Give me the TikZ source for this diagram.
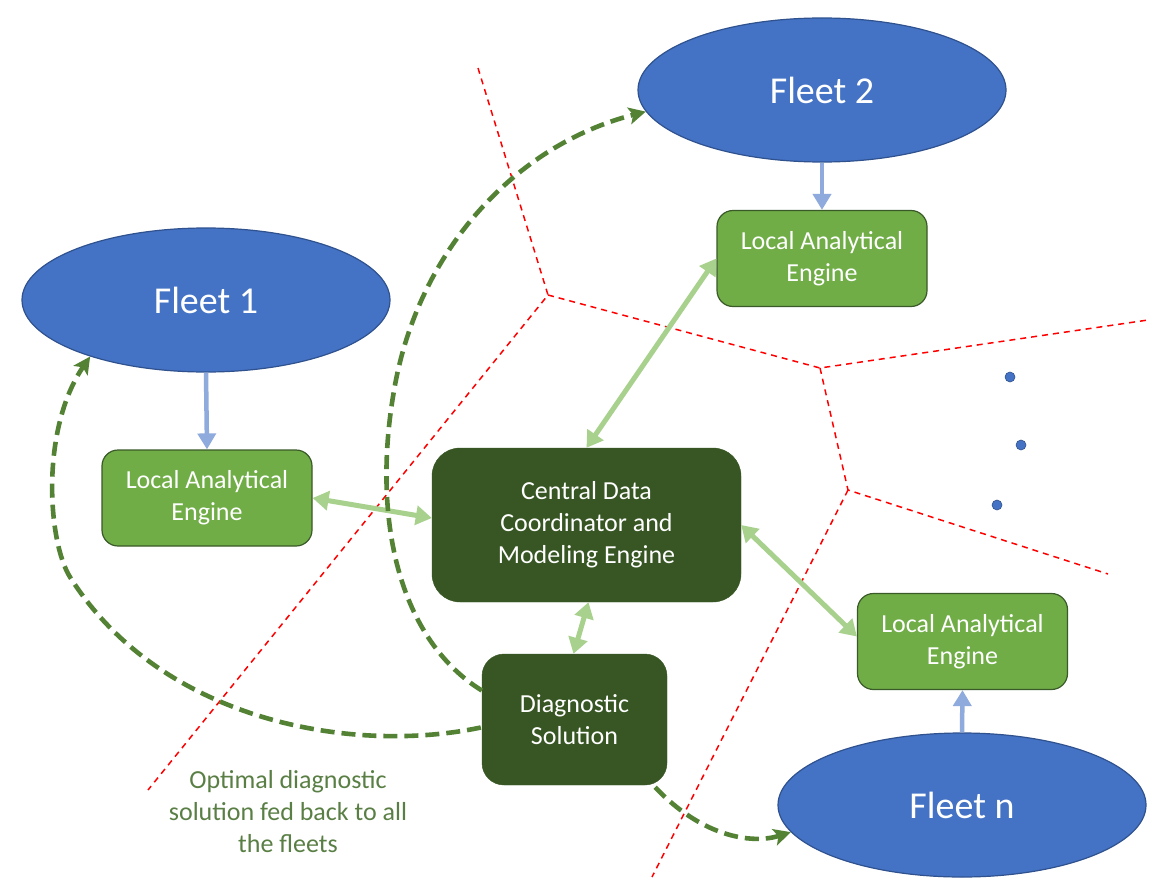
\documentclass[tikz,border=0pt]{standalone}
\usepackage{fontspec}
\setmainfont{Carlito}
\usetikzlibrary{shapes.geometric,arrows.meta,calc}

\definecolor{fleetblue}{HTML}{4472C4}
\definecolor{fleetedge}{HTML}{2F528F}
\definecolor{engfill}{HTML}{70AD47}
\definecolor{engedge}{HTML}{3A5A28}
\definecolor{darkfill}{HTML}{375623}
\definecolor{linkgreen}{HTML}{A9D18E}
\definecolor{feedgreen}{HTML}{548235}
\definecolor{feedblue}{HTML}{8FAADC}
\definecolor{notegreen}{HTML}{5A7F45}

\tikzset{
  fleet/.style={ellipse, draw=fleetedge, line width=1.2pt, fill=fleetblue,
    minimum width=368pt, minimum height=144pt, inner sep=0pt, text=white,
    font=\fontsize{38}{44}\selectfont},
  engine/.style={rectangle, rounded corners=16pt, draw=engedge, line width=1.2pt,
    fill=engfill, minimum width=210pt, minimum height=96pt, inner sep=0pt,
    text=white, align=center, font=\fontsize{26}{32}\selectfont},
  hub/.style={rectangle, rounded corners=28pt, draw=darkfill, fill=darkfill,
    minimum width=309pt, minimum height=154pt, inner sep=0pt,
    text=white, align=center, font=\fontsize{26}{32}\selectfont},
  diagbox/.style={rectangle, rounded corners=22pt, draw=darkfill, fill=darkfill,
    minimum width=185pt, minimum height=131pt, inner sep=0pt,
    text=white, align=center, font=\fontsize{26}{32}\selectfont},
  link/.style={linkgreen, line width=5pt,
    {Triangle[length=16pt,width=19pt]}-{Triangle[length=16pt,width=19pt]}},
  feed/.style={feedblue, line width=4.5pt, -{Triangle[length=16pt,width=18pt]}},
  back/.style={feedgreen, line width=4.6pt, dash pattern=on 14pt off 7pt,
    -{Stealth[length=17pt,width=17pt,inset=4pt]}},
  zone/.style={red, line width=1.5pt, dash pattern=on 6pt off 5pt},
  dot/.style={circle, fill=fleetblue, draw=fleetedge, line width=0.6pt,
    minimum size=10pt, inner sep=0pt},
  note/.style={text=notegreen, align=center, font=\fontsize{26}{32}\selectfont}
}

\begin{document}
\begin{tikzpicture}[x=1pt,y=-1pt]
  \useasboundingbox[fill=white] (0,0) rectangle (1158,880);

  % zone boundaries between the fleets
  \coordinate (z1) at (548,295);
  \coordinate (z2) at (820,368);
  \coordinate (z3) at (848,490);
  \coordinate (za) at (478,68);
  \coordinate (zb) at (148,790);
  \coordinate (zc) at (1148,320);
  \coordinate (zd) at (1108,574);
  \coordinate (ze) at (652,877);
  \draw[zone] (za) -- (z1) -- (zb);
  \draw[zone] (z1) -- (z2) -- (zc);
  \draw[zone] (z2) -- (z3) -- (zd);
  \draw[zone] (z3) -- (ze);

  % fleets
  \node[fleet] (fleet1) at (206,300) {Fleet 1};
  \node[fleet] (fleet2) at (822,90) {Fleet 2};
  \node[fleet] (fleetn) at (962,805) {Fleet n};

  % local engines
  \node[engine] (lae1) at (207,498) {Local Analytical\\Engine};
  \node[engine] (lae2) at (822,258.5) {Local Analytical\\Engine};
  \node[engine] (laen) at (962.5,641.5) {Local Analytical\\Engine};

  % central engine and solution
  \node[hub] (central) at (586.5,525) {Central Data\\Coordinator and\\Modeling Engine};
  \node[diagbox] (diag) at (574.5,719.5) {Diagnostic\\Solution};

  % further fleets
  \node[dot] (d1) at (1010,377) {};
  \node[dot] (d2) at (1021,445) {};
  \node[dot] (d3) at (997,505) {};

  % data from fleets to local engines
  \draw[feed] (fleet1.south) -- (lae1.north);
  \draw[feed] (fleet2.south) -- (lae2.north);
  \draw[feed] (fleetn.north) -- (laen.south);

  % exchange with the central engine
  \draw[link] (lae1.east) -- ($(central.west)+(0,-7)$);
  \draw[link] (central.north) -- (lae2.west);
  \draw[link] (central.east) -- ($(laen.west)+(0,-5)$);
  \draw[link] ($(central.south)+(2,0)$) -- ($(diag.north)+(-1,0)$);

  % solution fed back to the fleets
  \draw[back] ($(diag.west)+(-1,8)$)
      .. controls (350,755) and (160,720) .. (70,577)
      .. controls (48,542) and (40,430) .. (fleet1.206);
  \draw[back] ($(diag.west)+(0,-29)$)
      .. controls (400,640) and (370,520) .. (395,385)
      .. controls (420,250) and (515,145) .. (fleet2.187);
  \draw[back] ($(diag.south east)+(-12,2)$)
      .. controls (700,835) and (750,845) .. (fleetn.189);

  \node[note] (caption) at (288,812) {Optimal diagnostic\\solution fed back to all\\the fleets};
\end{tikzpicture}
\end{document}
